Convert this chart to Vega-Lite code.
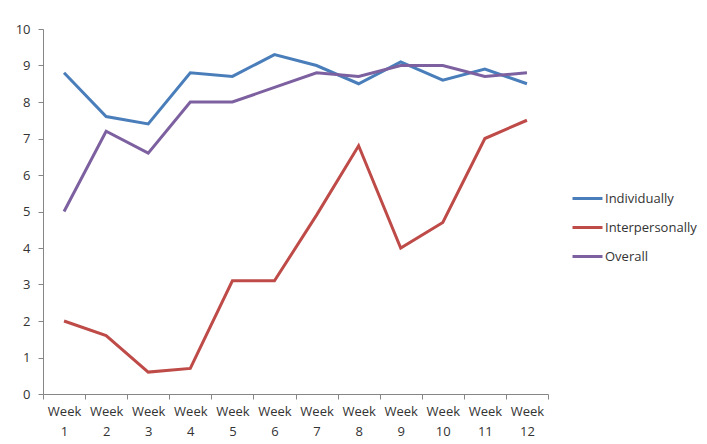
{
  "$schema": "https://vega.github.io/schema/vega-lite/v6.json",
  "width": 505,
  "height": 365,
  "autosize": {"type": "none"},
  "padding": {"left": 43, "top": 29, "right": 159, "bottom": 50},
  "background": "white",
  "config": {
    "view": {"stroke": null},
    "font": "Open Sans",
    "axis": {"grid": false, "domainColor": "#868686", "tickColor": "#868686", "labelColor": "#333333", "labelFont": "Open Sans", "labelFontSize": 13, "title": null}
  },
  "data": {
    "values": [
      {"week": 1, "series": "Individually", "value": 8.8},
      {"week": 2, "series": "Individually", "value": 7.6},
      {"week": 3, "series": "Individually", "value": 7.4},
      {"week": 4, "series": "Individually", "value": 8.8},
      {"week": 5, "series": "Individually", "value": 8.7},
      {"week": 6, "series": "Individually", "value": 9.3},
      {"week": 7, "series": "Individually", "value": 9.0},
      {"week": 8, "series": "Individually", "value": 8.5},
      {"week": 9, "series": "Individually", "value": 9.1},
      {"week": 10, "series": "Individually", "value": 8.6},
      {"week": 11, "series": "Individually", "value": 8.9},
      {"week": 12, "series": "Individually", "value": 8.5},
      {"week": 1, "series": "Interpersonally", "value": 2.0},
      {"week": 2, "series": "Interpersonally", "value": 1.6},
      {"week": 3, "series": "Interpersonally", "value": 0.6},
      {"week": 4, "series": "Interpersonally", "value": 0.7},
      {"week": 5, "series": "Interpersonally", "value": 3.1},
      {"week": 6, "series": "Interpersonally", "value": 3.1},
      {"week": 7, "series": "Interpersonally", "value": 4.9},
      {"week": 8, "series": "Interpersonally", "value": 6.8},
      {"week": 9, "series": "Interpersonally", "value": 4.0},
      {"week": 10, "series": "Interpersonally", "value": 4.7},
      {"week": 11, "series": "Interpersonally", "value": 7.0},
      {"week": 12, "series": "Interpersonally", "value": 7.5},
      {"week": 1, "series": "Overall", "value": 5.0},
      {"week": 2, "series": "Overall", "value": 7.2},
      {"week": 3, "series": "Overall", "value": 6.6},
      {"week": 4, "series": "Overall", "value": 8.0},
      {"week": 5, "series": "Overall", "value": 8.0},
      {"week": 6, "series": "Overall", "value": 8.4},
      {"week": 7, "series": "Overall", "value": 8.8},
      {"week": 8, "series": "Overall", "value": 8.7},
      {"week": 9, "series": "Overall", "value": 9.0},
      {"week": 10, "series": "Overall", "value": 9.0},
      {"week": 11, "series": "Overall", "value": 8.7},
      {"week": 12, "series": "Overall", "value": 8.8}
    ]
  },
  "mark": {"type": "line", "strokeWidth": 3, "strokeJoin": "miter"},
  "encoding": {
    "x": {
      "field": "week",
      "type": "ordinal",
      "scale": {"type": "band", "paddingInner": 0, "paddingOuter": 0},
      "axis": {"labelAngle": 0, "tickBand": "extent", "tickSize": 5, "labelPadding": 6, "labelLineHeight": 20, "labelExpr": "length(datum.label) > 0 ? ['Week', datum.label] : ''", "labelBaseline": "top"}
    },
    "y": {
      "field": "value",
      "type": "quantitative",
      "scale": {"domain": [0, 10], "nice": false},
      "axis": {"values": [0,1,2,3,4,5,6,7,8,9,10], "tickSize": 5, "labelPadding": 8}
    },
    "color": {
      "field": "series",
      "type": "nominal",
      "scale": {"domain": ["Individually", "Interpersonally", "Overall"], "range": ["#4A7EBB", "#BE4B48", "#7D60A0"]},
      "legend": {
        "title": null,
        "orient": "none",
        "legendX": 528,
        "legendY": 153,
        "symbolType": "stroke",
        "symbolSize": 900,
        "symbolStrokeWidth": 3,
        "labelFontSize": 13,
        "labelColor": "#333333",
        "labelOffset": 1,
        "rowPadding": 5
      }
    }
  }
}
